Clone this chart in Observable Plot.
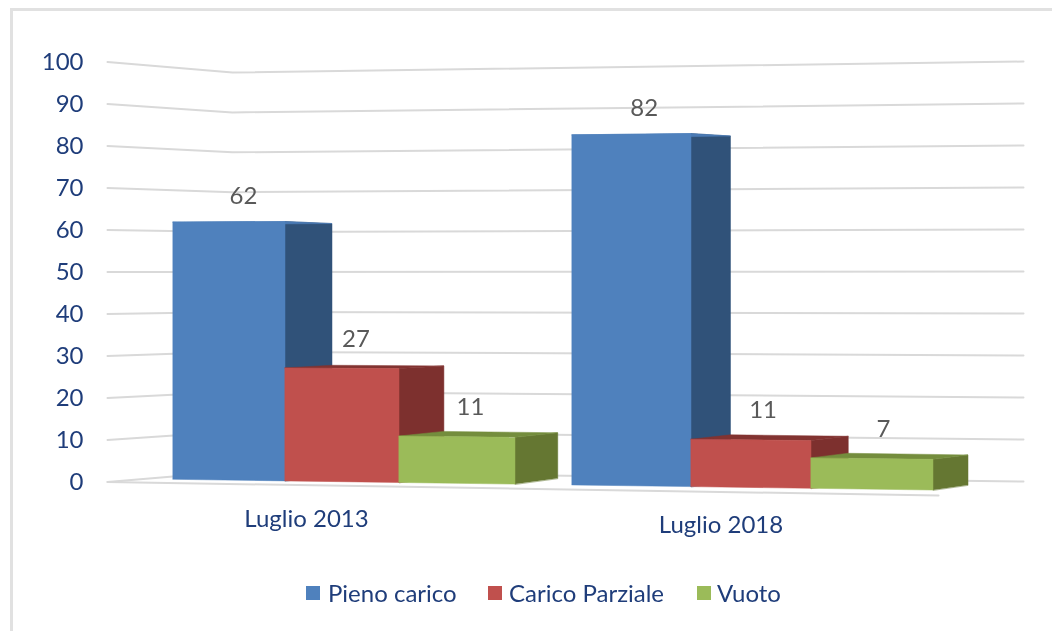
<!DOCTYPE html>
<html lang="it">
<head>
<meta charset="utf-8">
<script src="https://cdn.jsdelivr.net/npm/d3@7"></script>
<script src="https://cdn.jsdelivr.net/npm/@observablehq/plot@0.6"></script>
<style>
  html, body { margin: 0; padding: 0; background: #fff; }
  #frame { position: relative; width: 1052px; height: 631px; overflow: hidden; font-family: Lato, sans-serif; }
  #frame::before { content: ""; position: absolute; left: 10px; top: 8px; right: -5px; bottom: -5px;
    border-left: 3px solid #e1e1e1; border-top: 3px solid #e1e1e1; }
  #chart { position: absolute; left: 0; top: 0; filter: blur(0.35px); }
  #chart svg { display: block; }
  #legend { position: absolute; left: 0; top: 578px; height: 30px; width: 1052px; color: #1f3d7a; font-size: 24px; line-height: 30px; filter: blur(0.35px); }
  #legend span { position: absolute; white-space: nowrap; }
  #legend i { position: absolute; top: 8px; width: 14px; height: 14px; }
</style>
</head>
<body>
<div id="frame">
  <div id="chart"></div>
  <div id="legend"></div>
</div>
<script>
// Data
const categories = ["Luglio 2013", "Luglio 2018"];
const seriesNames = ["Pieno carico", "Carico Parziale", "Vuoto"];
const pienoCarico = [62, 82];
const caricoParziale = [27, 11];
const vuoto = [11, 7];
const yTicks = [0, 10, 20, 30, 40, 50, 60, 70, 80, 90, 100];

// Colours: front, side and top faces of each series
const frontColors = ["#4f81bd", "#c0504d", "#9bbb59"];
const sideColors = ["#305279", "#7d302e", "#657732"];
const topColors = ["#4a7ab4", "#823331", "#748d3d"];

// Layout of the pseudo-3D scene
const slots = [[173, 285, 399, 515], [572, 691, 811, 933]];
const legendAt = [[306, 328], [488, 509], [697, 717]];
const toValue = (py) => (481.5 - py) / 4.2;
const front = (x, v) => ({x, y: toValue(479.3 + 0.0141 * (x - 173) - (4.15 + 0.0003 * (x - 173)) * v)});
const depth = (x) => 47 - 0.0185 * (x - 285);
const back = (x, v) => {
  const bx = x + depth(x);
  return {x: bx, y: toValue(478.3 + 0.0164 * (bx - 557) - (4.05 + 0.0004 * (bx - 332)) * v)};
};

// Scene rows
const values = [pienoCarico, caricoParziale, vuoto];
const faces = [];
const labels = [];
const quad = (id, a, b, c, d, fill) => {
  faces.push({id, x1: a.x, y1: a.y, x2: d.x, y2: d.y, fill});
  faces.push({id, x1: b.x, y1: b.y, x2: c.x, y2: c.y, fill});
};
categories.forEach((cat, g) => {
  seriesNames.forEach((name, s) => {
    const v = values[s][g];
    const x0 = slots[g][s];
    const x1 = slots[g][s + 1];
    const id = `${cat} ${name}`;
    quad(id + " side", front(x1, 0), front(x1, v), back(x1, v), back(x1, 0), sideColors[s]);
    quad(id + " top", front(x0, v), front(x1, v), back(x1, v), back(x0, v), topColors[s]);
    quad(id + " front", front(x0, 0), front(x1, 0), front(x1, v), front(x0, v), frontColors[s]);
    const mid = (x0 + x1) / 2;
    labels.push({x: mid + depth(mid) / 4 + 2, y: back(mid, v * 1.012).y, text: String(v)});
  });
});

const grid = yTicks.flatMap((v) => [
  {v, x: 107, y: v},
  {v, x: 232, y: 2.5 + 0.95 * v},
  {v, x: 1023, y: v + 0.12}
]);
const floorEdge = [{x: 107, y: 0}, {x: 938, y: -3.2}];
const categoryLabels = categories.map((text, g) => {
  const c = (slots[g][0] + slots[g][3]) / 2 + [-38, -32][g];
  return {text, x: c, y: front(c, 0).y};
});

const plot = Plot.plot({
  width: 1052,
  height: 570,
  marginLeft: 107,
  marginRight: 0,
  marginTop: 0,
  marginBottom: 0,
  style: {fontFamily: "Lato, sans-serif", fontSize: "24px", background: "transparent"},
  x: {domain: [0, 1052], range: [0, 1052], axis: null},
  y: {domain: [0, 100], range: [481.5, 61.5], axis: null},
  color: {type: "identity"},
  marks: [
    Plot.axisY(yTicks, {anchor: "left", tickSize: 0, tickPadding: 24, label: null, fill: "#1f3d7a", fontSize: 24}),
    Plot.line(grid, {x: "x", y: "y", z: "v", stroke: "#d9d9d9", strokeWidth: 2}),
    Plot.line(floorEdge, {x: "x", y: "y", stroke: "#d9d9d9", strokeWidth: 2}),
    Plot.area(faces, {x1: "x1", y1: "y1", x2: "x2", y2: "y2", z: "id", fill: "fill", stroke: "fill", strokeWidth: 0.5}),
    Plot.text(labels, {x: "x", y: "y", text: "text", dy: -25, fill: "#595959", fontSize: 24}),
    Plot.text(categoryLabels, {x: "x", y: "y", text: "text", dy: 38, fill: "#1f3d7a", fontSize: 24})
  ]
});
document.getElementById("chart").appendChild(plot);

const legend = document.getElementById("legend");
seriesNames.forEach((name, s) => {
  const sw = document.createElement("i");
  sw.style.left = legendAt[s][0] + "px";
  sw.style.background = frontColors[s];
  const t = document.createElement("span");
  t.style.left = legendAt[s][1] + "px";
  t.textContent = name;
  legend.append(sw, t);
});
</script>
</body>
</html>
